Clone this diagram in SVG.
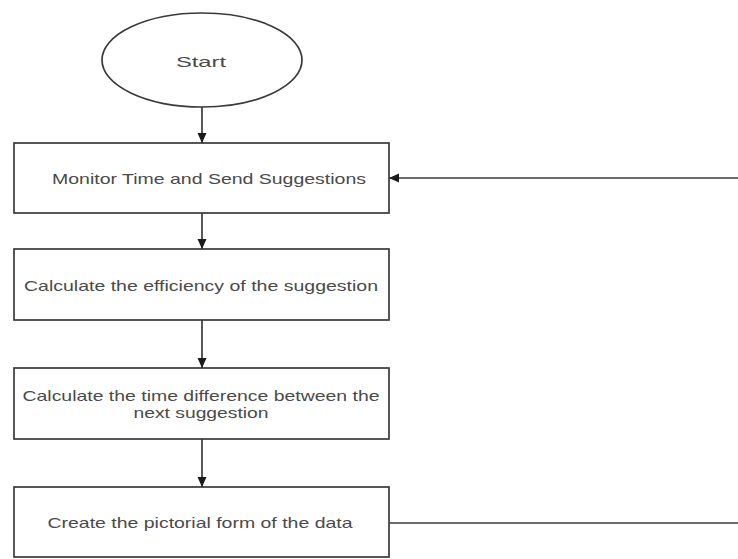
<svg xmlns="http://www.w3.org/2000/svg" width="738" height="559" viewBox="0 0 738 559">
  <defs>
    <style>
      .shape { fill: #ffffff; stroke: #3a3a3a; stroke-width: 1.7; }
      .label { font-family: "Liberation Sans", Arial, sans-serif; font-size: 15px; fill: #4a4a4a; }
      .edge { fill: none; stroke: #3a3a3a; stroke-width: 1.7; }
    </style>
    <marker id="arrow" viewBox="0 0 10 10" refX="10" refY="5" markerWidth="10" markerHeight="10" markerUnits="userSpaceOnUse" orient="auto">
      <path d="M0,0.5 L10,5 L0,9.5 Z" fill="#1a1a1a"/>
    </marker>
  </defs>
  <rect width="738" height="559" fill="#ffffff"/>

  <g id="start">
    <ellipse class="shape" cx="202" cy="60" rx="100" ry="47"/>
    <text class="label" x="201" y="67" text-anchor="middle" font-size="17" textLength="50" lengthAdjust="spacingAndGlyphs">Start</text>
  </g>

  <g id="monitor">
    <rect class="shape" x="14" y="143" width="375" height="70"/>
    <text class="label" x="209" y="184" text-anchor="middle" textLength="314" lengthAdjust="spacingAndGlyphs">Monitor Time and Send Suggestions</text>
  </g>

  <g id="efficiency">
    <rect class="shape" x="14" y="249" width="375" height="71"/>
    <text class="label" x="201" y="291" text-anchor="middle" textLength="354" lengthAdjust="spacingAndGlyphs">Calculate the efficiency of the suggestion</text>
  </g>

  <g id="time-difference">
    <rect class="shape" x="14" y="368" width="375" height="71"/>
    <text class="label" x="201" y="401" text-anchor="middle" textLength="357" lengthAdjust="spacingAndGlyphs">Calculate the time difference between the</text>
    <text class="label" x="201" y="418" text-anchor="middle" textLength="135" lengthAdjust="spacingAndGlyphs">next suggestion</text>
  </g>

  <g id="pictorial">
    <rect class="shape" x="14" y="487" width="375" height="70"/>
    <text class="label" x="200" y="528" text-anchor="middle" textLength="305" lengthAdjust="spacingAndGlyphs">Create the pictorial form of the data</text>
  </g>

  <g id="connectors">
    <line class="edge" x1="202" y1="107" x2="202" y2="143" marker-end="url(#arrow)"/>
    <line class="edge" x1="202" y1="213" x2="202" y2="249" marker-end="url(#arrow)"/>
    <line class="edge" x1="202" y1="320" x2="202" y2="368" marker-end="url(#arrow)"/>
    <line class="edge" x1="202" y1="439" x2="202" y2="487" marker-end="url(#arrow)"/>
    <line class="edge" x1="389" y1="523" x2="738" y2="523"/>
    <line class="edge" x1="738" y1="178" x2="389" y2="178" marker-end="url(#arrow)"/>
  </g>
</svg>
